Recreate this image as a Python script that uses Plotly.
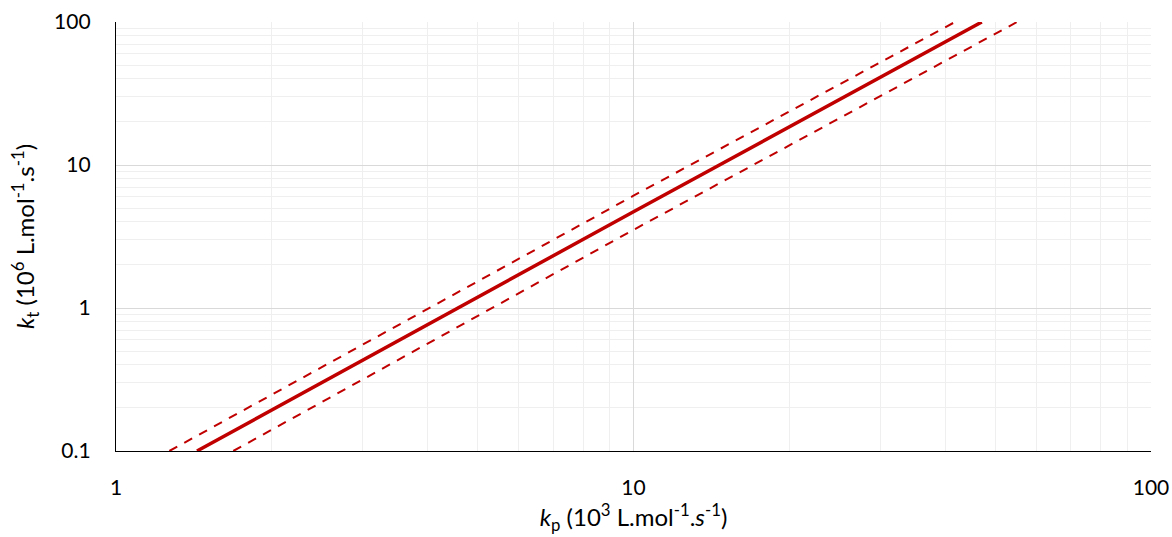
import plotly.graph_objects as go

# Values (log-log straight lines)
kp_fit = [1.434, 10, 47.1]
kt_fit = [0.1, 4.71, 100]
kp_upper = [1.268, 10, 41.8]
kt_upper = [0.1, 6.10, 100]
kp_lower = [1.685, 10, 55.1]
kt_lower = [0.1, 3.52, 100]

x_ticks = [1, 10, 100]
x_ticklabels = ["1", "10", "100"]
y_ticks = [0.1, 1, 10, 100]
y_ticklabels = ["0.1", "1", "10", "100"]

red = "#C00000"
FONT = "Lato"

fig = go.Figure()
fig.add_trace(go.Scatter(x=kp_upper, y=kt_upper, mode="lines",
                         line=dict(color=red, width=2, dash="9px,8px"), showlegend=False))
fig.add_trace(go.Scatter(x=kp_lower, y=kt_lower, mode="lines",
                         line=dict(color=red, width=2, dash="9px,8px"), showlegend=False))
fig.add_trace(go.Scatter(x=kp_fit, y=kt_fit, mode="lines",
                         line=dict(color=red, width=3.5), showlegend=False))

axis_common = dict(
    type="log", automargin=False,
    showgrid=True, gridcolor="#d9d9d9", gridwidth=1,
    minor=dict(dtick="D1", showgrid=True, gridcolor="#efefef", gridwidth=1, ticks=""),
    ticks="", zeroline=False,
    tickfont=dict(family=FONT, size=21, color="#000000"),
    showline=True, linecolor="#000000", linewidth=1.3,
)

fig.update_layout(
    width=1172, height=537,
    margin=dict(l=116, r=21, t=22, b=86),
    paper_bgcolor="white", plot_bgcolor="white",
    font=dict(family=FONT, size=21, color="#000000"),
    xaxis=dict(axis_common, range=[0, 2], tickvals=x_ticks, ticktext=x_ticklabels,
               ticklabelstandoff=18,
               title=dict(text="<i>k</i><sub>p</sub> (10<sup>3</sup> L.mol<sup>-1</sup>.<i>s</i><sup>-1</sup>)",
                          font=dict(family=FONT, size=24), standoff=8)),
    yaxis=dict(axis_common, range=[-1, 2], tickvals=y_ticks, ticktext=y_ticklabels,
               ticklabelstandoff=20,
               title=dict(text="<i>k</i><sub>t</sub> (10<sup>6</sup> L.mol<sup>-1</sup>.s<sup>-1</sup>)",
                          font=dict(family=FONT, size=24), standoff=12)),
)

fig.write_html(
    "out.html",
    config={"displayModeBar": False},
    post_script="document.body.style.margin='0';document.body.style.overflow='hidden';",
)
